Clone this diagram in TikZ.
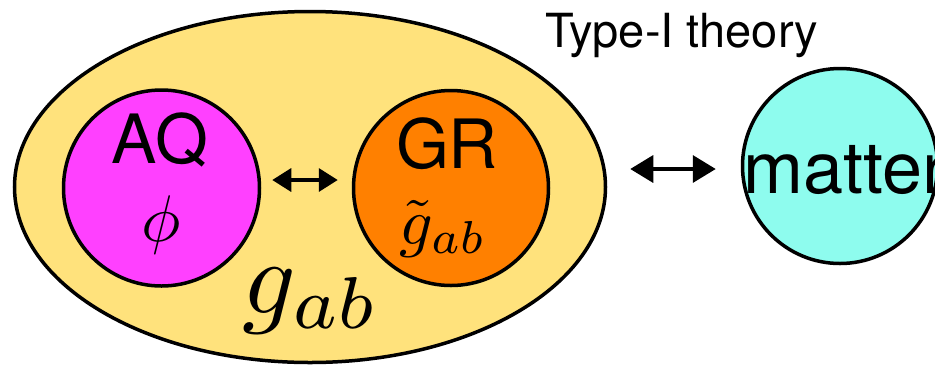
\documentclass[tikz,border=0pt]{standalone}
\usepackage{fontspec}
\setsansfont{TeX Gyre Heros}
\usetikzlibrary{shapes.geometric,arrows.meta}
\definecolor{ellfill}{RGB}{255,226,124}
\definecolor{aqfill}{RGB}{255,64,255}
\definecolor{grfill}{RGB}{255,128,0}
\definecolor{matfill}{RGB}{142,252,238}
\tikzset{
  blob/.style={circle,draw=black,line width=3.5pt,inner sep=0pt,minimum size=196pt},
  dbl/.style={{Triangle[length=19pt,width=23pt]}-{Triangle[length=19pt,width=23pt]},line width=3.5pt},
  dblbig/.style={{Triangle[length=23pt,width=27pt]}-{Triangle[length=23pt,width=27pt]},line width=3.5pt},
  lbl/.style={inner sep=0pt,anchor=base,font=\sffamily},
}
\begin{document}
\begin{tikzpicture}[x=1pt,y=-1pt]
\clip (0,0) rectangle (935,368);
\node[ellipse,draw=black,fill=ellfill,line width=3.5pt,inner sep=0pt,minimum width=591pt,minimum height=351pt] (ell) at (310,187) {};
\node[blob,fill=aqfill] (aq) at (161.5,188) {};
\node[blob,fill=grfill,minimum size=195pt] (gr) at (451,188) {};
\node[blob,fill=matfill,minimum size=195pt] (mat) at (840,166) {};
\draw[dbl] ([xshift=11pt,yshift=8pt]aq.east) -- ([xshift=-14pt,yshift=8pt]gr.west);
\draw[dblbig] ([xshift=23pt,yshift=18pt]ell.east) -- ([xshift=-25pt,yshift=-3pt]mat.west);
\node[lbl,font=\sffamily\fontsize{68}{80}\selectfont] (aqt) at (160,163) {AQ};
\node[lbl,scale=6.6] (phi) at (161,241) {$\phi$};
\node[lbl,font=\sffamily\fontsize{68}{80}\selectfont] (grt) at (447,168) {GR};
\node[lbl,scale=6.6] (gt) at (443,244) {$\tilde{g}_{ab}$};
\node[lbl,scale=10.5] (g) at (311,313) {$g_{ab}$};
\node[lbl,anchor=base west,font=\sffamily\fontsize{47}{56}\selectfont] (type) at (545,47) {Type-I theory};
\node[lbl,anchor=base west,font=\sffamily\fontsize{72}{84}\selectfont] (matt) at (743,193) {matter};
\end{tikzpicture}
\end{document}
